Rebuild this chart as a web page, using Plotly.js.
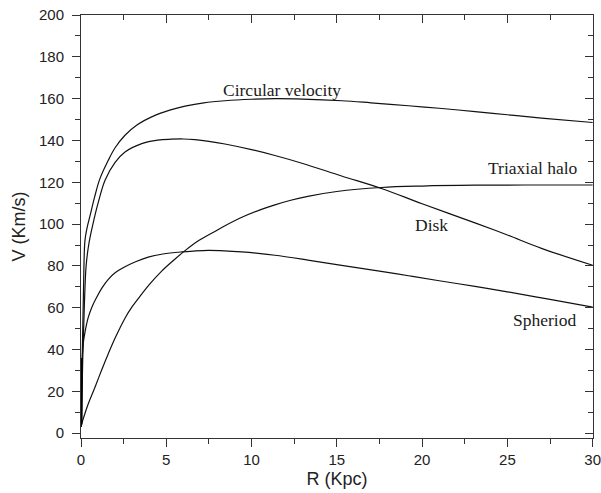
<!DOCTYPE html>
<html>
<head>
<meta charset="utf-8">
<script src="https://cdn.plot.ly/plotly-3.0.1.min.js"></script>
<style>html,body{margin:0;padding:0;background:#fff;}#chart{width:601px;height:493px;}</style>
</head>
<body>
<div id="chart"></div>
<script>
// Radius (Kpc) and velocity (Km/s)
const rCircular = [0.02, 0.08, 0.15, 0.23, 0.35, 0.53, 0.8, 1.1, 1.6, 2.0, 2.58, 3.3, 4.34, 5.2, 6.1, 7.2, 8.44, 10, 11.4, 13, 15.3, 17, 19.2, 21, 23.1, 25, 27, 30];
const vCircular = [3, 40, 70, 92, 98, 104, 113, 121.5, 130.5, 136.5, 142.5, 147.5, 152, 154.5, 156.4, 158, 159, 159.7, 160, 159.8, 159, 158, 156.6, 155.4, 153.8, 152.3, 150.7, 148.6];

const rDisk = [0.02, 0.1, 0.2, 0.3, 0.45, 0.7, 1.0, 1.41, 2.0, 2.58, 3.56, 4.5, 5.3, 6.0, 6.68, 7.5, 8.44, 10, 11.37, 13, 15.28, 17.7, 20, 23.1, 25, 27, 30];
const vDisk = [3, 35, 62, 80, 90, 100, 110, 121, 129.5, 134.5, 138.5, 140.2, 140.6, 140.7, 140.4, 139.6, 138.3, 135.6, 132.8, 129, 123, 116.8, 109.7, 100.6, 94.8, 88.4, 80.3];

const rHalo = [0.04, 0.4, 0.82, 1.2, 1.6, 2.0, 2.58, 3.0, 3.56, 4.0, 4.73, 5.4, 6.1, 6.88, 7.85, 8.44, 9.5, 10.5, 11.37, 12.3, 13.3, 15, 17.6, 20, 23.1, 26, 30];
const vHalo = [4.5, 13.5, 22, 30, 38, 45.5, 55, 60.5, 66.5, 71, 77.5, 82.5, 87.3, 92, 96.5, 99.2, 103.5, 106.8, 109.2, 111.4, 113.3, 115.6, 117.5, 118.2, 118.6, 118.7, 118.7];

const rSpheroid = [0.02, 0.05, 0.13, 0.25, 0.43, 0.65, 0.92, 1.25, 1.6, 2.0, 2.58, 3.2, 3.94, 4.8, 5.9, 6.6, 7.46, 8.4, 9.42, 10.4, 11.37, 13.3, 15.28, 17.5, 19.2, 21, 23.1, 25, 27.5, 30];
const vSpheroid = [3, 30, 42.8, 49, 55.5, 60.5, 65, 69.7, 73.6, 76.7, 79.6, 82, 84.2, 85.7, 86.7, 87.1, 87.4, 87.2, 86.7, 86, 85.1, 82.8, 80.3, 77.5, 75.3, 72.9, 70.2, 67.6, 64, 60.3];

// dense stroke hugging the axis at the very centre
const rCore = [0.0, 0.0];
const vCore = [4, 36];

const curveLabels = ["Circular velocity", "Triaxial halo", "Disk", "Spheriod"];
const labelR = [11.78, 26.52, 20.57, 27.17];
const labelV = [164.1, 126.6, 99.4, 53.9];

const xTitle = "R (Kpc)";
const yTitle = "V (Km/s)";

const lineStyle = {color: "#111", width: 1.2, shape: "spline", smoothing: 1};
const traces = [
  {x: rCircular, y: vCircular, mode: "lines", line: lineStyle, name: "Circular velocity"},
  {x: rDisk, y: vDisk, mode: "lines", line: lineStyle, name: "Disk"},
  {x: rHalo, y: vHalo, mode: "lines", line: lineStyle, name: "Triaxial halo"},
  {x: rSpheroid, y: vSpheroid, mode: "lines", line: lineStyle, name: "Spheriod"},
  {x: rCore, y: vCore, mode: "lines", line: {color: "#000", width: 3}, name: "core", cliponaxis: false},
  {x: [], y: [], xaxis: "x2", yaxis: "y2", mode: "lines", showlegend: false, hoverinfo: "skip"}
];

const axisColor = "#333";
const tickFont = {family: "Liberation Sans, Arial, sans-serif", size: 15, color: "#222"};
const xr = [0, 30.02];
const yr = [-2.3, 200];

const layout = {
  width: 601, height: 493,
  margin: {l: 81, r: 8, t: 15, b: 55, pad: 0},
  paper_bgcolor: "#fff", plot_bgcolor: "#fff",
  showlegend: false,
  xaxis: {
    range: xr, dtick: 5, tick0: 0, showgrid: false, zeroline: false,
    showline: true, linecolor: axisColor, linewidth: 1,
    ticks: "outside", ticklen: 8, tickcolor: axisColor, tickwidth: 1,
    minor: {dtick: 2.5, ticks: "outside", ticklen: 5, tickcolor: axisColor, showgrid: false},
    tickfont: tickFont, ticklabelstandoff: 0, ticklabeloverflow: "allow",
    title: {text: xTitle, font: {family: "Liberation Sans, Arial, sans-serif", size: 18, color: "#222"}, standoff: 5}
  },
  yaxis: {
    range: yr, dtick: 20, tick0: 0, showgrid: false, zeroline: false,
    showline: true, linecolor: axisColor, linewidth: 1,
    ticks: "outside", ticklen: 8, tickcolor: axisColor, tickwidth: 1,
    minor: {dtick: 10, ticks: "outside", ticklen: 5, tickcolor: axisColor, showgrid: false},
    tickfont: tickFont, ticklabelstandoff: 5, ticklabeloverflow: "allow",
    title: {text: yTitle, font: {family: "Liberation Sans, Arial, sans-serif", size: 18, color: "#222"}, standoff: 8}
  },
  xaxis2: {
    overlaying: "x", side: "top", anchor: "y2", range: xr, dtick: 5, tick0: 0,
    showgrid: false, zeroline: false, showline: true, linecolor: axisColor, linewidth: 1,
    ticks: "inside", ticklen: 8, tickcolor: axisColor, showticklabels: false,
    minor: {dtick: 2.5, ticks: "inside", ticklen: 5, tickcolor: axisColor, showgrid: false}
  },
  yaxis2: {
    overlaying: "y", side: "right", anchor: "x2", range: yr, dtick: 20, tick0: 0,
    showgrid: false, zeroline: false, showline: true, linecolor: axisColor, linewidth: 1,
    ticks: "inside", ticklen: 8, tickcolor: axisColor, showticklabels: false,
    minor: {dtick: 10, ticks: "inside", ticklen: 5, tickcolor: axisColor, showgrid: false}
  },
  annotations: curveLabels.map((t, i) => ({
    text: t, x: labelR[i], y: labelV[i], xref: "x", yref: "y",
    showarrow: false, xanchor: "center", yanchor: "middle",
    font: {family: "Liberation Serif, Times New Roman, serif", size: 17.5, color: "#1a1a1a"}
  }))
};

Plotly.newPlot("chart", traces, layout, {staticPlot: true, displayModeBar: false});
</script>
</body>
</html>
